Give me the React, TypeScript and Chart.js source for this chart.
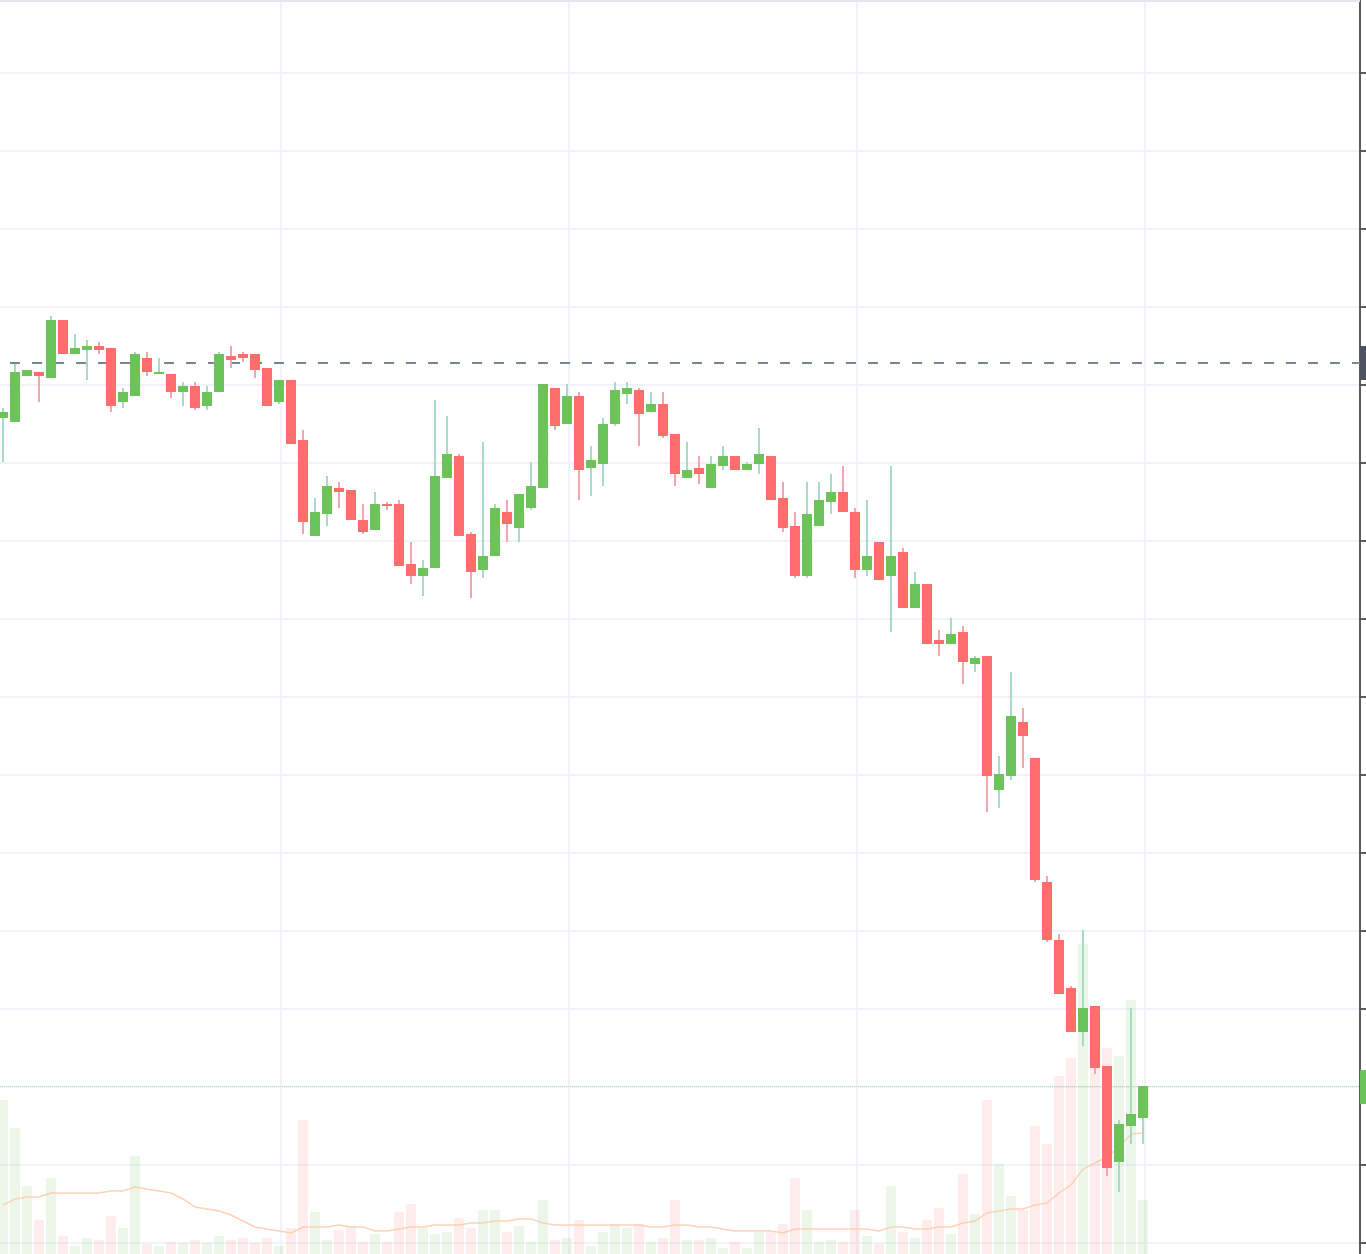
import { useEffect, useRef } from "react";
import { Chart, registerables, ChartConfiguration, Plugin } from "chart.js";

Chart.register(...registerables);

// one entry per session, oldest first
const sessions = Array.from({ length: 96 }, (_, i) => i);

const open = [
  882, 878, 924, 928, 922, 980, 946, 950, 954, 952,
  898, 904, 942, 926, 926, 908, 914, 894, 908, 944,
  946, 946, 932, 898, 920, 860, 764, 786, 812, 810,
  780, 770, 796, 796, 736, 724, 732, 822, 844, 766,
  730, 744, 788, 772, 792, 812, 912, 876, 904, 832,
  836, 876, 906, 910, 888, 896, 866, 822, 832, 812,
  834, 844, 830, 836, 844, 802, 774, 724, 774, 798,
  808, 788, 730, 758, 724, 748, 692, 716, 660, 656,
  668, 636, 644, 510, 524, 578, 542, 418, 360, 312,
  268, 294, 234, 138, 174, 182,
];
const high = [
  892, 936, 930, 928, 984, 980, 966, 960, 958, 952,
  912, 948, 948, 942, 926, 918, 918, 914, 948, 954,
  948, 946, 932, 920, 920, 870, 802, 824, 818, 810,
  796, 808, 798, 800, 758, 740, 900, 884, 846, 768,
  858, 796, 800, 806, 838, 916, 912, 916, 908, 854,
  882, 918, 918, 912, 908, 908, 866, 858, 844, 844,
  854, 844, 838, 872, 844, 818, 788, 818, 818, 826,
  834, 792, 800, 758, 834, 752, 728, 716, 670, 682,
  674, 644, 644, 544, 628, 592, 542, 424, 366, 314,
  370, 294, 234, 180, 292, 214,
];
const low = [
  838, 878, 924, 898, 922, 946, 946, 920, 946, 888,
  892, 904, 924, 926, 902, 894, 890, 890, 908, 932,
  938, 922, 894, 896, 856, 766, 764, 774, 792, 780,
  766, 770, 790, 734, 716, 704, 732, 822, 764, 702,
  722, 744, 758, 758, 790, 812, 870, 876, 800, 804,
  814, 874, 896, 854, 888, 862, 814, 822, 816, 812,
  830, 830, 830, 826, 800, 768, 722, 722, 774, 786,
  788, 722, 724, 720, 668, 692, 692, 656, 644, 656,
  616, 628, 488, 492, 520, 532, 418, 358, 306, 268,
  254, 226, 124, 108, 156, 156,
];
const close = [
  888, 928, 930, 924, 980, 946, 952, 954, 950, 894,
  908, 946, 928, 928, 908, 914, 892, 908, 946, 940,
  942, 930, 894, 920, 856, 778, 788, 814, 808, 780,
  768, 796, 794, 734, 724, 732, 824, 846, 764, 728,
  744, 792, 776, 806, 814, 916, 874, 904, 830, 840,
  876, 910, 912, 886, 896, 864, 826, 830, 826, 836,
  844, 830, 836, 846, 800, 772, 724, 786, 800, 808,
  788, 730, 744, 720, 744, 692, 716, 656, 656, 666,
  638, 642, 524, 526, 584, 564, 420, 360, 306, 268,
  292, 232, 132, 176, 186, 214,
];
const volume = [
  154, 126, 68, 34, 76, 18, 8, 16, 14, 38,
  26, 98, 10, 8, 12, 11, 14, 11, 18, 14,
  16, 11, 16, 8, 26, 134, 42, 14, 24, 28,
  12, 20, 12, 42, 50, 26, 20, 22, 36, 26,
  44, 44, 22, 28, 12, 54, 14, 16, 34, 8,
  22, 30, 26, 30, 12, 16, 54, 14, 14, 16,
  6, 12, 6, 22, 22, 30, 76, 44, 12, 14,
  12, 44, 18, 10, 68, 22, 16, 34, 46, 20,
  80, 40, 154, 90, 58, 44, 128, 110, 178, 196,
  310, 204, 206, 198, 254, 54,
];
const volumeMA = [
  49, 55, 57, 57, 61, 61, 61, 61, 61, 63,
  63, 67, 65, 63, 61, 55, 47, 45, 43, 39,
  33, 27, 25, 23, 21, 27, 27, 27, 29, 27,
  27, 23, 23, 25, 27, 27, 29, 29, 29, 31,
  31, 33, 33, 35, 35, 31, 29, 29, 29, 29,
  29, 29, 29, 29, 27, 27, 29, 29, 27, 27,
  25, 23, 23, 23, 23, 21, 25, 25, 25, 25,
  25, 25, 25, 23, 27, 27, 25, 25, 27, 27,
  31, 33, 41, 43, 45, 45, 49, 51, 61, 69,
  85, 91, 97, 107, 120, 121,
];

// horizontal price grid and the vertical time grid
const priceLevels = [1227, 1149, 1071, 993, 915, 837, 759, 681, 603, 525, 447, 369, 291, 213, 135, 57];
const timeLevels = [23.17, 47.17, 71.17, 95.17];

const refPrice = 937;
const lastPrice = close[close.length - 1];

const UP = "#6cc35a";
const DOWN = "#ff6d6d";
const UP_WICK = "#a6dbc5";
const DOWN_WICK = "#f5a5ae";

const isUp = (i: number) => close[i] >= open[i];

const priceLines: Plugin = {
  id: "priceLines",
  beforeDatasetsDraw(chart) {
    const { ctx, chartArea, scales } = chart;
    const yRef = scales.y.getPixelForValue(refPrice);
    const yLast = scales.y.getPixelForValue(lastPrice) + 0.5;
    ctx.save();
    ctx.fillStyle = "#e3e6ec";
    ctx.fillRect(chartArea.left, 0, chartArea.right - chartArea.left, 2);

    ctx.strokeStyle = "#758696";
    ctx.lineWidth = 2;
    ctx.setLineDash([10, 12]);
    ctx.lineDashOffset = 12;
    ctx.beginPath();
    ctx.moveTo(chartArea.left, yRef);
    ctx.lineTo(chartArea.right, yRef);
    ctx.stroke();

    ctx.strokeStyle = "rgba(108, 195, 90, 0.5)";
    ctx.lineWidth = 1;
    ctx.setLineDash([1, 1]);
    ctx.lineDashOffset = 0;
    ctx.beginPath();
    ctx.moveTo(chartArea.left, yLast);
    ctx.lineTo(chartArea.right, yLast);
    ctx.stroke();
    ctx.restore();
  },
  afterDraw(chart) {
    const { ctx, chartArea, scales } = chart;
    const w = chart.width - chartArea.right;
    ctx.save();
    ctx.fillStyle = "#4c525e";
    ctx.fillRect(chartArea.right, scales.y.getPixelForValue(refPrice) - 17, w, 34);
    ctx.fillStyle = UP;
    ctx.fillRect(chartArea.right, scales.y.getPixelForValue(lastPrice) - 16, w, 34);
    ctx.restore();
  },
};

export default function App() {
  const canvasRef = useRef<HTMLCanvasElement>(null);
  const chartRef = useRef<Chart | null>(null);

  useEffect(() => {
    document.body.style.margin = "0";
    if (!canvasRef.current) return;
    if (chartRef.current) chartRef.current.destroy();
    const ctx = canvasRef.current.getContext("2d");
    if (!ctx) return;

    const config: ChartConfiguration = {
      type: "bar",
      data: {
        datasets: [
          {
            type: "bar",
            label: "Bodies",
            data: sessions.map((i) => ({ x: i, y: [open[i], close[i]] })) as any,
            backgroundColor: sessions.map((i) => (isUp(i) ? UP : DOWN)),
            barThickness: 10,
            grouped: false,
            inflateAmount: 0,
            borderWidth: 0,
            order: 1,
          },
          {
            type: "bar",
            label: "Wicks",
            data: sessions.map((i) => ({ x: i, y: [low[i], high[i]] })) as any,
            backgroundColor: sessions.map((i) => (isUp(i) ? UP_WICK : DOWN_WICK)),
            barThickness: 2,
            grouped: false,
            inflateAmount: 0,
            borderWidth: 0,
            order: 2,
          },
          {
            type: "line",
            label: "Volume MA",
            data: sessions.map((i) => ({ x: i, y: volumeMA[i] })),
            yAxisID: "vol",
            borderColor: "rgba(252, 196, 160, 0.75)",
            borderWidth: 1.5,
            pointRadius: 0,
            tension: 0,
            order: 3,
          },
          {
            type: "bar",
            label: "Volume",
            data: sessions.map((i) => ({ x: i, y: volume[i] })),
            yAxisID: "vol",
            backgroundColor: sessions.map((i) =>
              isUp(i) ? "rgba(108, 195, 90, 0.13)" : "rgba(255, 109, 109, 0.12)"
            ),
            barThickness: 10,
            grouped: false,
            inflateAmount: 0,
            borderWidth: 0,
            order: 4,
          },
        ],
      },
      options: {
        responsive: false,
        animation: false,
        events: [],
        layout: { padding: 0 },
        plugins: {
          legend: { display: false },
          tooltip: { enabled: false },
        },
        scales: {
          x: {
            type: "linear",
            min: -0.25,
            max: 113.0833,
            offset: false,
            afterBuildTicks: (s) => {
              s.ticks = timeLevels.map((v) => ({ value: v }));
            },
            ticks: { display: false },
            grid: { color: "#f0f3fa", lineWidth: 2, drawTicks: false, offset: false },
            border: { display: false },
          },
          y: {
            type: "linear",
            position: "right",
            min: 46,
            max: 1300,
            afterBuildTicks: (s) => {
              s.ticks = priceLevels.map((v) => ({ value: v }));
            },
            ticks: { display: false },
            grid: {
              color: "#f0f3fa",
              lineWidth: 2,
              drawTicks: true,
              tickLength: 6,
              tickColor: "#5a5a5a",
              tickWidth: 2,
            },
            border: { display: true, color: "#5a5a5a", width: 2 },
          },
          vol: {
            type: "linear",
            display: false,
            min: 0,
            max: 1254,
          },
        },
      },
      plugins: [priceLines],
    };

    chartRef.current = new Chart(ctx, config);
    return () => {
      if (chartRef.current) {
        chartRef.current.destroy();
        chartRef.current = null;
      }
    };
  }, []);

  return (
    <div style={{ position: "fixed", left: 0, top: 0, width: 1366, height: 1254 }}>
      <canvas ref={canvasRef} width={1366} height={1254} style={{ display: "block" }} />
    </div>
  );
}
